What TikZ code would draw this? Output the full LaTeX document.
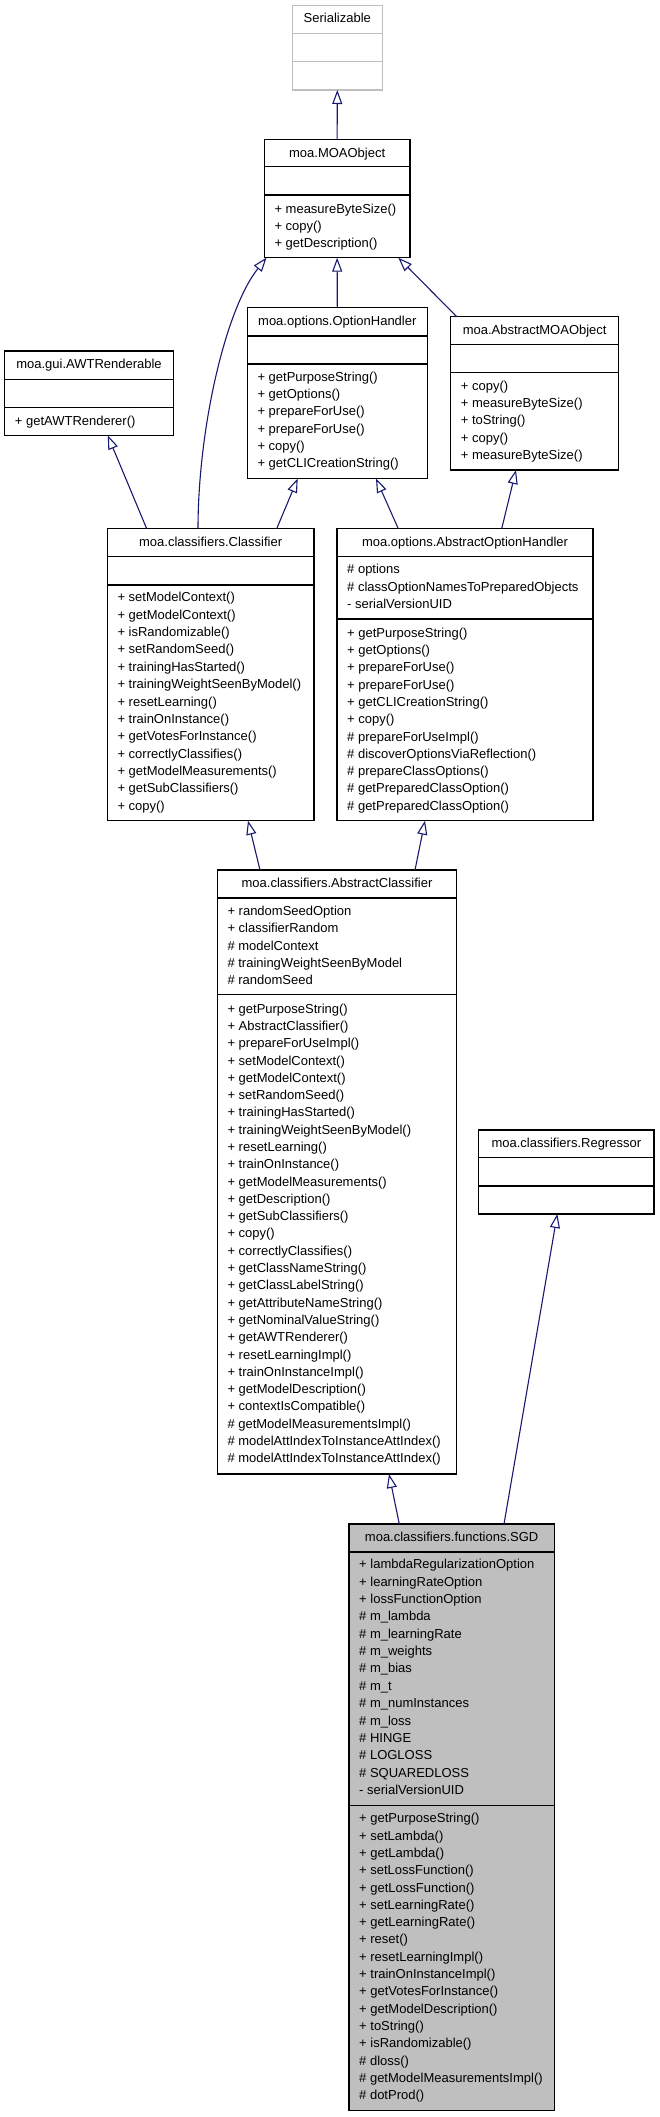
\documentclass[tikz,border=0pt]{standalone}
\usepackage{fontspec}
\setmainfont{Liberation Sans}
\usetikzlibrary{arrows.meta}
\definecolor{edgec}{RGB}{25,25,112}
\definecolor{greyb}{RGB}{191,191,191}
\definecolor{sgdfill}{RGB}{191,191,191}
\tikzset{
  box/.style={draw=black, line width=1.1pt, fill=white, inner sep=0pt, outer sep=0pt},
  divl/.style={draw=black, line width=1.1pt},
  ttl/.style={anchor=base, inner sep=0pt, font=\fontsize{13}{15}\selectfont},
  txt/.style={anchor=base west, inner sep=0pt, font=\fontsize{13}{15}\selectfont},
  inh/.style={draw=edgec, line width=1.1pt, -{Triangle[open, length=14pt, width=10pt]}}
}
\newcommand\cbox[6][]{\node[box,#1, anchor=north west, minimum width={#4-#2}, minimum height={#5-#3}] (#6) at (#2,#3) {};}
\newcommand\hdiv[3][divl]{\draw[#1] (#2.west |- 0,#3) -- (#2.east |- 0,#3);}
\newcommand\mylines[5]{\foreach \t [count=\i from 0] in {#5} {\node[txt] (#1\i) at ({#2},{#3+4.5+\i*#4}) {\t};}}
\begin{document}
\begin{tikzpicture}[x=1pt,y=-1pt]
\useasboundingbox (0,0) rectangle (659,2117);
% Serializable
\cbox[draw=greyb]{292.3}{5.7}{382.3}{90}{ser}
\hdiv[draw=greyb, line width=1.1pt]{ser}{33.3}
\hdiv[draw=greyb, line width=1.1pt]{ser}{61.7}
\node[ttl] (sert) at (ser.north |- 0,23) {Serializable};
% MOAObject
\cbox{264.3}{139.3}{410}{257.7}{moa}
\hdiv{moa}{166.7}\hdiv{moa}{195}
\node[ttl] (moat) at (moa.north |- 0,157.4) {moa.MOAObject};
\mylines{moam}{274.3}{209}{16.9}{+ measureByteSize(),+ copy(),+ getDescription()}
% AWTRenderable
\cbox{4.7}{351}{173.3}{435.3}{awt}
\hdiv{awt}{379.3}\hdiv{awt}{407.3}
\node[ttl] (awtt) at (awt.north |- 0,368.7) {moa.gui.AWTRenderable};
\mylines{awtm}{14.7}{420.7}{17.3}{+ getAWTRenderer()}
% OptionHandler
\cbox{247.3}{307.5}{427.3}{478.5}{oh}
\hdiv{oh}{336}\hdiv{oh}{364}
\node[ttl] (oht) at (oh.north |- 0,325.4) {moa.options.OptionHandler};
\mylines{ohm}{257.3}{376.7}{17.3}{+ getPurposeString(),+ getOptions(),+ prepareForUse(),+ prepareForUse(),+ copy(),+ getCLICreationString()}
% AbstractMOAObject
\cbox{450.7}{316.7}{618.7}{470}{amo}
\hdiv{amo}{344.3}\hdiv{amo}{372.7}
\node[ttl] (amot) at (amo.north |- 0,334) {moa.AbstractMOAObject};
\mylines{amom}{460.7}{386}{17.2}{+ copy(),+ measureByteSize(),+ toString(),+ copy(),+ measureByteSize()}
% Classifier
\cbox{107.3}{528.7}{314}{820.7}{cls}
\hdiv{cls}{556.7}\hdiv{cls}{585}
\node[ttl] (clst) at (cls.north |- 0,546) {moa.classifiers.Classifier};
\mylines{clsm}{117.3}{597.3}{17.37}{+ setModelContext(),+ getModelContext(),+ isRandomizable(),+ setRandomSeed(),+ trainingHasStarted(),+ trainingWeightSeenByModel(),+ resetLearning(),+ trainOnInstance(),+ getVotesForInstance(),+ correctlyClassifies(),+ getModelMeasurements(),+ getSubClassifiers(),+ copy()}
% AbstractOptionHandler
\cbox{337}{528.7}{593}{820.7}{aoh}
\hdiv{aoh}{556.7}\hdiv{aoh}{619}
\node[ttl] (aoht) at (aoh.north |- 0,546) {moa.options.AbstractOptionHandler};
\mylines{aoha}{347}{569.3}{17.5}{\# options,\# classOptionNamesToPreparedObjects,- serialVersionUID}
\mylines{aohm}{347}{632.7}{17.3}{+ getPurposeString(),+ getOptions(),+ prepareForUse(),+ prepareForUse(),+ getCLICreationString(),+ copy(),\# prepareForUseImpl(),\# discoverOptionsViaReflection(),\# prepareClassOptions(),\# getPreparedClassOption(),\# getPreparedClassOption()}
% AbstractClassifier
\cbox{217.3}{870}{456.7}{1474}{ac}
\hdiv{ac}{898}\hdiv{ac}{994.7}
\node[ttl] (act) at (ac.north |- 0,887) {moa.classifiers.AbstractClassifier};
\mylines{aca}{227.3}{910.7}{17.4}{+ randomSeedOption,+ classifierRandom,\# modelContext,\# trainingWeightSeenByModel,\# randomSeed}
\mylines{acm}{227.3}{1008.7}{17.29}{+ getPurposeString(),+ AbstractClassifier(),+ prepareForUseImpl(),+ setModelContext(),+ getModelContext(),+ setRandomSeed(),+ trainingHasStarted(),+ trainingWeightSeenByModel(),+ resetLearning(),+ trainOnInstance(),+ getModelMeasurements(),+ getDescription(),+ getSubClassifiers(),+ copy(),+ correctlyClassifies(),+ getClassNameString(),+ getClassLabelString(),+ getAttributeNameString(),+ getNominalValueString(),+ getAWTRenderer(),+ resetLearningImpl(),+ trainOnInstanceImpl(),+ getModelDescription(),+ contextIsCompatible(),\# getModelMeasurementsImpl(),\# modelAttIndexToInstanceAttIndex(),\# modelAttIndexToInstanceAttIndex()}
% Regressor
\cbox{478.7}{1130}{654}{1214}{reg}
\hdiv{reg}{1157.7}\hdiv{reg}{1186}
\node[ttl] (regt) at (reg.north |- 0,1147.4) {moa.classifiers.Regressor};
% SGD
\cbox[fill=sgdfill]{349}{1524}{554.3}{2110.7}{sgd}
\hdiv{sgd}{1552}\hdiv{sgd}{1805.3}
\node[ttl] (sgdt) at (sgd.north |- 0,1541.4) {moa.classifiers.functions.SGD};
\mylines{sgda}{359}{1564.3}{17.36}{+ lambdaRegularizationOption,+ learningRateOption,+ lossFunctionOption,\# m\_lambda,\# m\_learningRate,\# m\_weights,\# m\_bias,\# m\_t,\# m\_numInstances,\# m\_loss,\# HINGE,\# LOGLOSS,\# SQUAREDLOSS,- serialVersionUID}
\mylines{sgdm}{359}{1818.3}{17.3}{+ getPurposeString(),+ setLambda(),+ getLambda(),+ setLossFunction(),+ getLossFunction(),+ setLearningRate(),+ getLearningRate(),+ reset(),+ resetLearningImpl(),+ trainOnInstanceImpl(),+ getVotesForInstance(),+ getModelDescription(),+ toString(),+ isRandomizable(),\# dloss(),\# getModelMeasurementsImpl(),\# dotProd()}
% connectors
\draw[inh] (moa.north) -- (ser.south);
\draw[inh] ([xshift=90.7]cls.north west) .. controls (198,430) and (225,310) .. ([xshift=2.2]moa.south west);
\draw[inh] (oh.north) -- (moa.south);
\draw[inh] ([xshift=6]amo.north west) -- ([xshift=-11.7]moa.south east);
\draw[inh] ([xshift=39.4]cls.north west) -- ([xshift=103]awt.south west);
\draw[inh] ([xshift=-37.3]cls.north east) -- ([xshift=50.4]oh.south west);
\draw[inh] ([xshift=61.3]aoh.north west) -- ([xshift=-51.3]oh.south east);
\draw[inh] ([xshift=164.7]aoh.north west) -- ([xshift=65.3]amo.south west);
\draw[inh] ([xshift=42.7]ac.north west) -- ([xshift=140.7]cls.south west);
\draw[inh] ([xshift=-41.7]ac.north east) -- ([xshift=88]aoh.south west);
\draw[inh] ([xshift=50.3]sgd.north west) -- ([xshift=171.7]ac.south west);
\draw[inh] ([xshift=155]sgd.north west) -- ([xshift=78.6]reg.south west);
\end{tikzpicture}
\end{document}
